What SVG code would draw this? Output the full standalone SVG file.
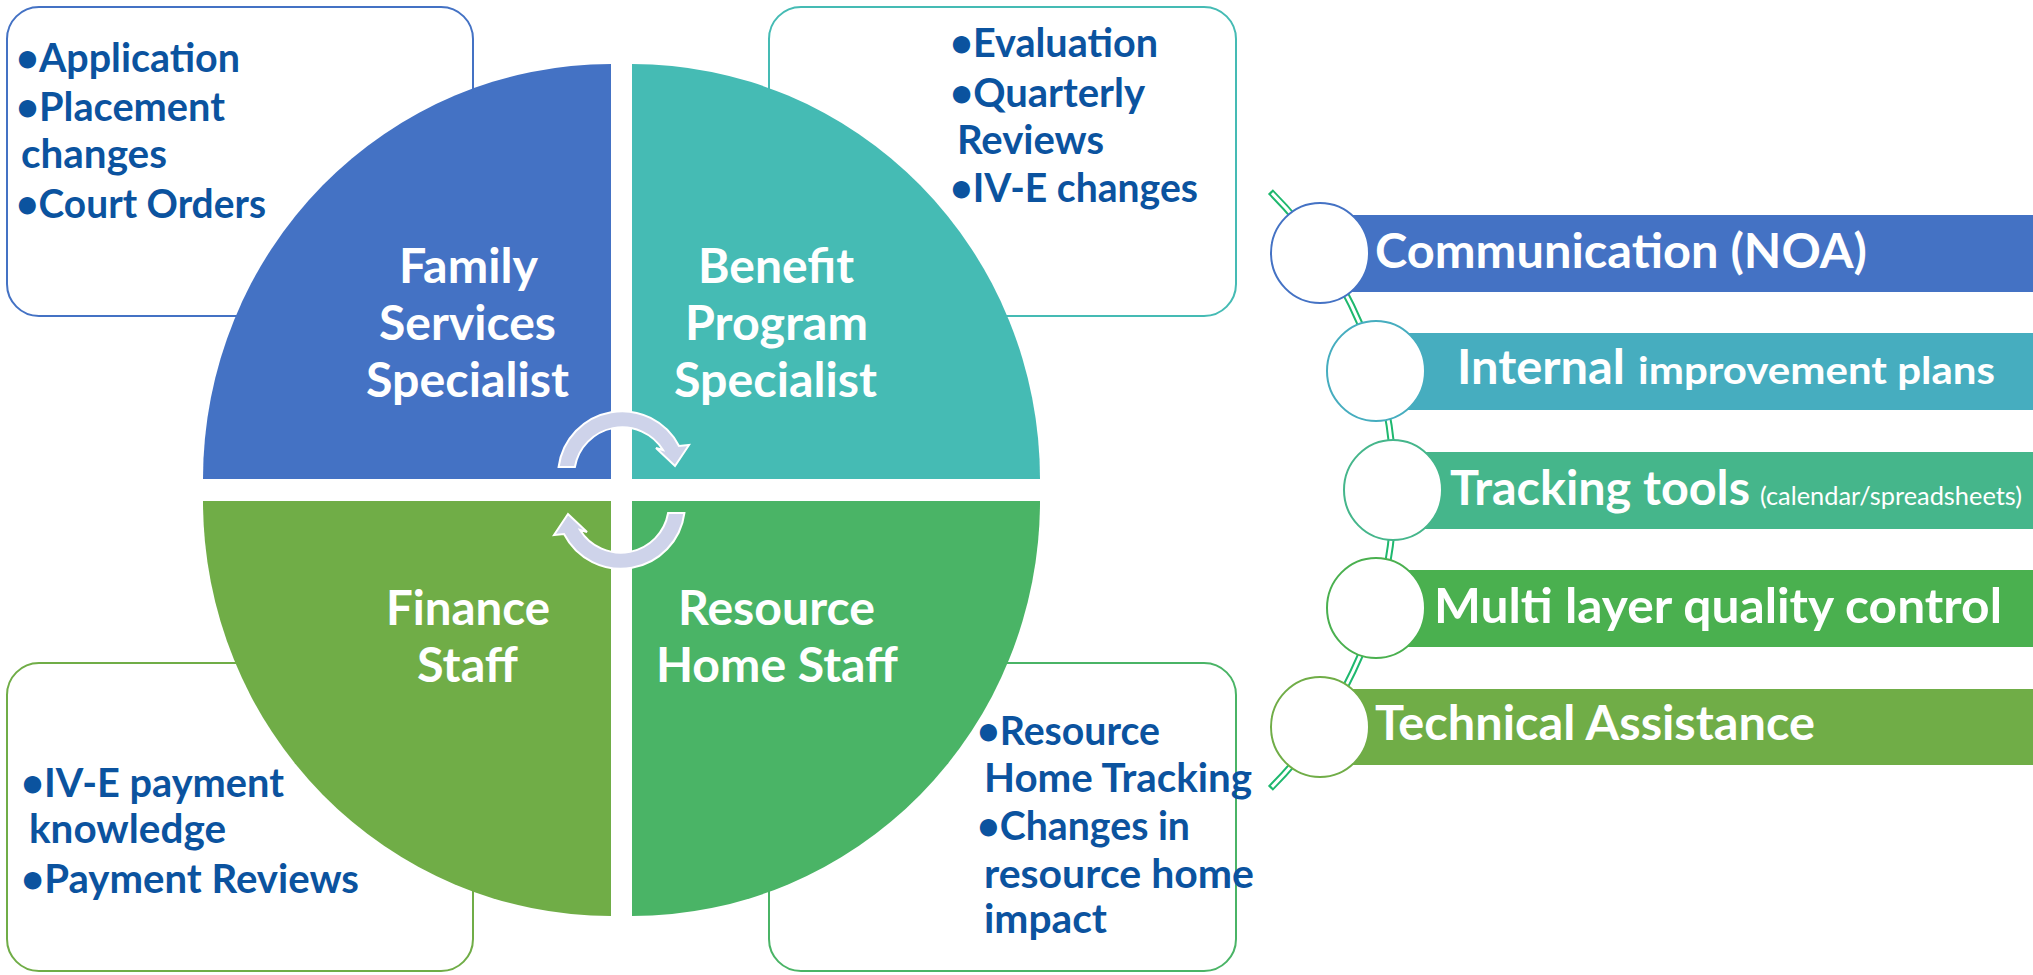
<svg xmlns="http://www.w3.org/2000/svg" width="2033" height="975" viewBox="0 0 2033 975">
  <style>
    .box { fill: #ffffff; stroke-width: 2; }
    .item { font-family: Lato, "Liberation Sans", Arial, sans-serif; font-weight: bold; font-size: 40px; fill: #0B539F; }
    .quad-label { font-family: Lato, "Liberation Sans", Arial, sans-serif; font-weight: bold; font-size: 47px; fill: #ffffff; }
    .bar-label { font-family: Lato, "Liberation Sans", Arial, sans-serif; font-weight: bold; font-size: 47px; fill: #ffffff; }
    .bar-small { font-family: Lato, "Liberation Sans", Arial, sans-serif; font-weight: bold; font-size: 38px; fill: #ffffff; }
    .bar-tiny { font-family: Lato, "Liberation Sans", Arial, sans-serif; font-size: 25px; fill: #ffffff; }
    .ring { fill: #ffffff; stroke-width: 2; }
    .cycle { fill: #CED3EA; stroke: #ffffff; stroke-width: 2; stroke-linejoin: miter; }
  </style>
  <defs>
    <path id="cycle-arrow" d="M 558.6 467 A 64 64 0 0 1 679 446 L 689 445 L 675 466 L 656 448 L 663 450 A 48 48 0 0 0 574.9 467 Z"/>
  </defs>

  <rect width="2033" height="975" fill="#ffffff"/>

  <!-- detail boxes behind the wheel -->
  <g id="box-family-services">
    <rect class="box" x="7" y="7" width="466" height="309" rx="32" stroke="#4472C4"/>
  </g>
  <g id="box-benefit-program">
    <rect class="box" x="769" y="7" width="467" height="309" rx="32" stroke="#45BBB4"/>
  </g>
  <g id="box-finance">
    <rect class="box" x="7" y="663" width="466" height="308" rx="32" stroke="#70AD47"/>
  </g>
  <g id="box-resource-home">
    <rect class="box" x="769" y="663" width="467" height="308" rx="32" stroke="#4AB466"/>
  </g>

  <!-- four quarter segments of the wheel -->
  <g id="quad-family-services">
    <path d="M 611 479 L 203 479 A 408 415 0 0 1 611 64 Z" fill="#4472C4"/>
    <text class="quad-label" x="399" y="283" textLength="139" lengthAdjust="spacingAndGlyphs">Family</text>
    <text class="quad-label" x="379" y="340" textLength="177" lengthAdjust="spacingAndGlyphs">Services</text>
    <text class="quad-label" x="366" y="397" textLength="203" lengthAdjust="spacingAndGlyphs">Specialist</text>
  </g>
  <g id="quad-benefit-program">
    <path d="M 632 479 L 632 64 A 408 415 0 0 1 1040 479 Z" fill="#45BBB4"/>
    <text class="quad-label" x="698" y="283" textLength="156" lengthAdjust="spacingAndGlyphs">Benefit</text>
    <text class="quad-label" x="685" y="340" textLength="183" lengthAdjust="spacingAndGlyphs">Program</text>
    <text class="quad-label" x="674" y="397" textLength="203" lengthAdjust="spacingAndGlyphs">Specialist</text>
  </g>
  <g id="quad-finance">
    <path d="M 611 501 L 611 916 A 408 415 0 0 1 203 501 Z" fill="#70AD47"/>
    <text class="quad-label" x="386" y="625" textLength="164" lengthAdjust="spacingAndGlyphs">Finance</text>
    <text class="quad-label" x="417" y="682" textLength="101" lengthAdjust="spacingAndGlyphs">Staff</text>
  </g>
  <g id="quad-resource-home">
    <path d="M 632 501 L 1040 501 A 408 415 0 0 1 632 916 Z" fill="#4AB466"/>
    <text class="quad-label" x="678" y="625" textLength="197" lengthAdjust="spacingAndGlyphs">Resource</text>
    <text class="quad-label" x="656" y="682" textLength="242" lengthAdjust="spacingAndGlyphs">Home Staff</text>
  </g>

  <!-- bullet lists inside the detail boxes -->
  <g id="list-family-services">
    <text class="item" x="16" y="72" textLength="224" lengthAdjust="spacingAndGlyphs">•Application</text>
    <text class="item" x="16" y="121" textLength="209" lengthAdjust="spacingAndGlyphs">•Placement</text>
    <text class="item" x="21" y="168" textLength="146" lengthAdjust="spacingAndGlyphs">changes</text>
    <text class="item" x="16" y="218" textLength="250" lengthAdjust="spacingAndGlyphs">•Court Orders</text>
  </g>
  <g id="list-benefit-program">
    <text class="item" x="950" y="57" textLength="208" lengthAdjust="spacingAndGlyphs">•Evaluation</text>
    <text class="item" x="950" y="107" textLength="195" lengthAdjust="spacingAndGlyphs">•Quarterly</text>
    <text class="item" x="957" y="154" textLength="147" lengthAdjust="spacingAndGlyphs">Reviews</text>
    <text class="item" x="950" y="202" textLength="248" lengthAdjust="spacingAndGlyphs">•IV-E changes</text>
  </g>
  <g id="list-finance">
    <text class="item" x="21" y="797" textLength="263" lengthAdjust="spacingAndGlyphs">•IV-E payment</text>
    <text class="item" x="29" y="843" textLength="197" lengthAdjust="spacingAndGlyphs">knowledge</text>
    <text class="item" x="21" y="893" textLength="338" lengthAdjust="spacingAndGlyphs">•Payment Reviews</text>
  </g>
  <g id="list-resource-home">
    <text class="item" x="977" y="745" textLength="183" lengthAdjust="spacingAndGlyphs">•Resource</text>
    <text class="item" x="984" y="792" textLength="268" lengthAdjust="spacingAndGlyphs">Home Tracking</text>
    <text class="item" x="977" y="840" textLength="213" lengthAdjust="spacingAndGlyphs">•Changes in</text>
    <text class="item" x="984" y="888" textLength="270" lengthAdjust="spacingAndGlyphs">resource home</text>
    <text class="item" x="984" y="933" textLength="123" lengthAdjust="spacingAndGlyphs">impact</text>
  </g>

  <!-- connectors: cycle arrows at the hub and the curved spine of the list -->
  <g id="connectors">
    <use href="#cycle-arrow" class="cycle"/>
    <use href="#cycle-arrow" class="cycle" transform="rotate(180 621.5 490)"/>
    <path d="M 1270.4 191.6 A 422 422 0 0 1 1270.4 788.4" fill="none" stroke="#1EB86E" stroke-width="7"/>
    <path d="M 1271.96 193.17 A 422 422 0 0 1 1271.96 786.83" fill="none" stroke="#ffffff" stroke-width="3"/>
  </g>

  <!-- right-hand list of practices -->
  <g id="item-communication">
    <rect x="1320" y="215" width="713" height="77" fill="#4472C4"/>
    <ellipse class="ring" cx="1320" cy="253" rx="49" ry="50" stroke="#4472C4"/>
    <text class="bar-label" x="1375" y="268" textLength="492" lengthAdjust="spacingAndGlyphs">Communication (NOA)</text>
  </g>
  <g id="item-improvement">
    <rect x="1376" y="333" width="657" height="77" fill="#46ADBF"/>
    <ellipse class="ring" cx="1376" cy="371" rx="49" ry="50" stroke="#46ADBF"/>
    <text class="bar-label" x="1457" y="384" textLength="168" lengthAdjust="spacingAndGlyphs">Internal</text>
    <text class="bar-small" x="1638" y="384" textLength="357" lengthAdjust="spacingAndGlyphs">improvement plans</text>
  </g>
  <g id="item-tracking">
    <rect x="1393" y="452" width="640" height="77" fill="#45B68B"/>
    <ellipse class="ring" cx="1393" cy="490" rx="49" ry="50" stroke="#45B68B"/>
    <text class="bar-label" x="1450" y="505" textLength="300" lengthAdjust="spacingAndGlyphs">Tracking tools</text>
    <text class="bar-tiny" x="1760" y="505" textLength="262" lengthAdjust="spacingAndGlyphs">(calendar/spreadsheets)</text>
  </g>
  <g id="item-quality">
    <rect x="1376" y="570" width="657" height="77" fill="#4AB04F"/>
    <ellipse class="ring" cx="1376" cy="608" rx="49" ry="50" stroke="#4AB04F"/>
    <text class="bar-label" x="1434" y="623" textLength="568" lengthAdjust="spacingAndGlyphs">Multi layer quality control</text>
  </g>
  <g id="item-technical">
    <rect x="1320" y="689" width="713" height="76" fill="#70AD47"/>
    <ellipse class="ring" cx="1320" cy="727" rx="49" ry="50" stroke="#70AD47"/>
    <text class="bar-label" x="1375" y="740" textLength="440" lengthAdjust="spacingAndGlyphs">Technical Assistance</text>
  </g>
</svg>
